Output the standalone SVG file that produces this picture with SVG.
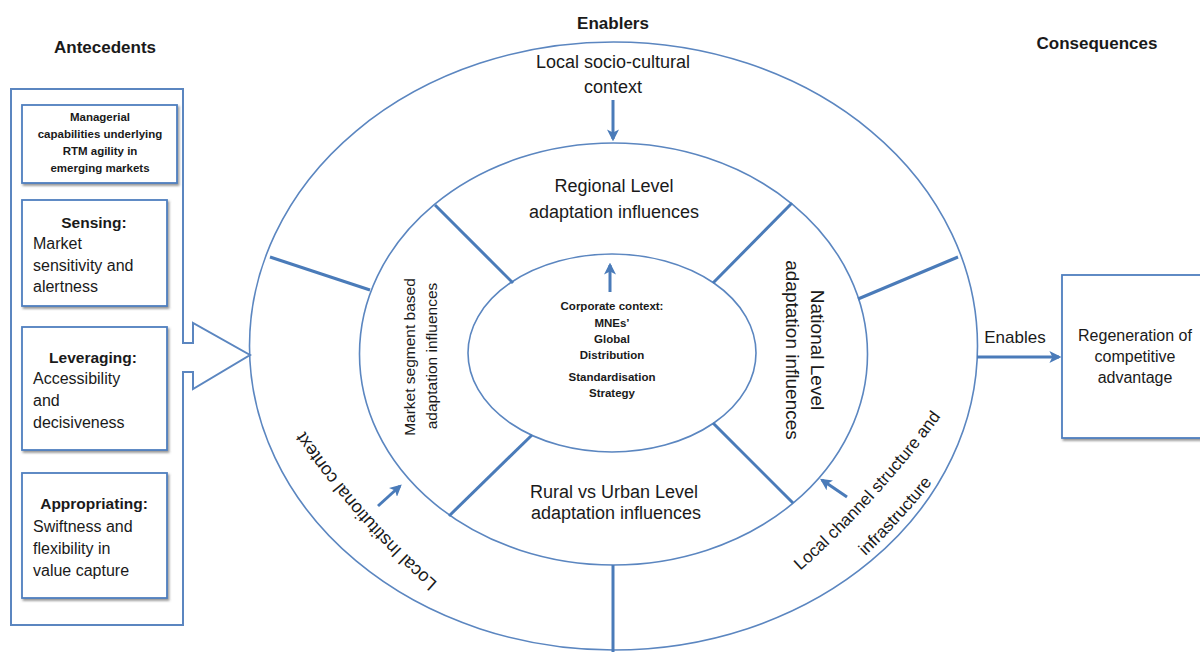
<svg xmlns="http://www.w3.org/2000/svg" width="1200" height="652" viewBox="0 0 1200 652">
<defs>
<style>
text{font-family:"Liberation Sans",Arial,sans-serif;fill:#1a1a1a}
.h{font-size:17px;font-weight:bold}
.lab{font-size:18px;text-anchor:middle}
.body{font-size:16px}
.bh{font-size:15.5px;font-weight:bold;text-anchor:middle}
.ell{fill:none;stroke:#5b86c0;stroke-width:1.6}
.spoke{stroke:#4a7bb9;stroke-width:3;fill:none}
.arr{stroke:#4a7bb9;stroke-width:3;fill:none;marker-end:url(#ah)}
.box{fill:#fff;stroke:#4f7fbf;stroke-width:1.8;filter:url(#sh)}
</style>
<marker id="ah" viewBox="0 0 10 10" refX="8" refY="5" markerWidth="4" markerHeight="4" orient="auto">
<path d="M0,0 L10,5 L0,10 L2.5,5 z" fill="#4a7bb9"/>
</marker>
<filter id="sh" x="-10%" y="-10%" width="125%" height="125%">
<feDropShadow dx="1.5" dy="2" stdDeviation="1.2" flood-color="#555" flood-opacity="0.6"/>
</filter>
<path id="p-inst" d="M444,588 Q360,516 300,424"/>
<path id="p-ch1" d="M799,572 Q879,501 942,415"/>
<path id="p-ch2" d="M843,577 Q903,523 951,458"/>
</defs>
<rect width="1200" height="652" fill="#fff"/>

<g id="headers">
<text class="h" x="105" y="53" text-anchor="middle">Antecedents</text>
<text class="h" x="613" y="29" text-anchor="middle">Enablers</text>
<text class="h" x="1097" y="49" text-anchor="middle">Consequences</text>
</g>

<g id="enablers-rings">
<ellipse class="ell" cx="613.5" cy="346" rx="364" ry="304"/>
<ellipse class="ell" cx="613.5" cy="354" rx="254" ry="211"/>
<ellipse class="ell" cx="612" cy="353" rx="144" ry="99"/>
</g>

<g id="antecedents">
<path d="M11,89 H183 V343 H193 V323 L250,355 L193,389 V372 H183 V625 H11 Z" fill="#fff" stroke="#5b86c0" stroke-width="2"/>
</g>

<g id="managerial">
<rect class="box" x="22" y="105" width="155" height="78"/>
<text x="100" y="121" font-size="11.5" font-weight="bold" text-anchor="middle">Managerial</text>
<text x="100" y="138" font-size="11.5" font-weight="bold" text-anchor="middle">capabilities underlying</text>
<text x="100" y="155" font-size="11.5" font-weight="bold" text-anchor="middle">RTM agility in</text>
<text x="100" y="172" font-size="11.5" font-weight="bold" text-anchor="middle">emerging markets</text>
</g>

<g id="sensing">
<rect class="box" x="22" y="200" width="145" height="106"/>
<text class="bh" x="94" y="228" font-size="16.5">Sensing:</text>
<text class="body" x="33" y="249">Market</text>
<text class="body" x="33" y="271">sensitivity and</text>
<text class="body" x="33" y="292">alertness</text>
</g>

<g id="leveraging">
<rect class="box" x="22" y="327" width="145" height="123"/>
<text class="bh" x="93" y="363">Leveraging:</text>
<text class="body" x="33" y="384">Accessibility</text>
<text class="body" x="33" y="406">and</text>
<text class="body" x="33" y="428">decisiveness</text>
</g>

<g id="appropriating">
<rect class="box" x="22" y="473" width="145" height="125"/>
<text class="bh" x="94" y="509">Appropriating:</text>
<text class="body" x="33" y="532">Swiftness  and</text>
<text class="body" x="33" y="554">flexibility in</text>
<text class="body" x="33" y="576">value capture</text>
</g>

<g id="connectors">
<line class="spoke" x1="270" y1="257" x2="370" y2="290"/>
<line class="spoke" x1="958" y1="257" x2="858" y2="299"/>
<line class="spoke" x1="613" y1="565" x2="613" y2="652"/>
<line class="spoke" x1="435" y1="205" x2="513" y2="283"/>
<line class="spoke" x1="792" y1="203" x2="713" y2="283"/>
<line class="spoke" x1="532" y1="435" x2="449" y2="516"/>
<line class="spoke" x1="713" y1="423" x2="793" y2="503"/>
<line class="arr" x1="613" y1="100" x2="613" y2="139"/>
<line class="arr" x1="610" y1="292" x2="610" y2="265"/>
<line class="arr" x1="378" y1="506" x2="400" y2="486"/>
<line class="arr" x1="847" y1="497" x2="822" y2="480"/>
<line class="arr" x1="977" y1="357" x2="1059" y2="357"/>
<text x="1015" y="343" font-size="17" text-anchor="middle">Enables</text>
</g>

<g id="socio-cultural">
<text class="lab" x="613" y="68">Local socio-cultural</text>
<text class="lab" x="613" y="93">context</text>
</g>

<g id="regional">
<text class="lab" x="614" y="192">Regional Level</text>
<text class="lab" x="614" y="218">adaptation influences</text>
</g>

<g id="rural-urban">
<text class="lab" x="614" y="498">Rural vs Urban Level</text>
<text class="lab" x="616" y="519">adaptation influences</text>
</g>

<g id="market-segment">
<text font-size="15.5" text-anchor="middle" transform="translate(415,357) rotate(-90)">Market segment  based</text>
<text font-size="15.5" text-anchor="middle" transform="translate(437,356) rotate(-90)">adaptation influences</text>
</g>

<g id="national">
<text font-size="19" text-anchor="middle" transform="translate(811,350) rotate(90)">National Level</text>
<text font-size="19" text-anchor="middle" transform="translate(786,350) rotate(90)">adaptation  influences</text>
</g>

<g id="corporate">
<text x="612" y="310" font-size="11.5" font-weight="bold" text-anchor="middle">Corporate context:</text>
<text x="612" y="327" font-size="11.5" font-weight="bold" text-anchor="middle">MNEs’</text>
<text x="612" y="343" font-size="11.5" font-weight="bold" text-anchor="middle">Global</text>
<text x="612" y="359" font-size="11.5" font-weight="bold" text-anchor="middle">Distribution</text>
<text x="612" y="381" font-size="11.5" font-weight="bold" text-anchor="middle">Standardisation</text>
<text x="612" y="397" font-size="11.5" font-weight="bold" text-anchor="middle">Strategy</text>
</g>

<g id="institutional">
<text font-size="18"><textPath href="#p-inst" startOffset="50%" text-anchor="middle">Local Institutional context</textPath></text>
</g>

<g id="channel">
<text font-size="17"><textPath href="#p-ch1" startOffset="50%" text-anchor="middle">Local channel structure and</textPath></text>
<text font-size="17"><textPath href="#p-ch2" startOffset="50%" text-anchor="middle">infrastructure</textPath></text>
</g>

<g id="consequence">
<rect class="box" x="1062" y="275" width="150" height="163"/>
<text x="1135" y="341" font-size="16" text-anchor="middle">Regeneration of</text>
<text x="1135" y="362" font-size="16" text-anchor="middle">competitive</text>
<text x="1135" y="383" font-size="16" text-anchor="middle">advantage</text>
</g>
</svg>
